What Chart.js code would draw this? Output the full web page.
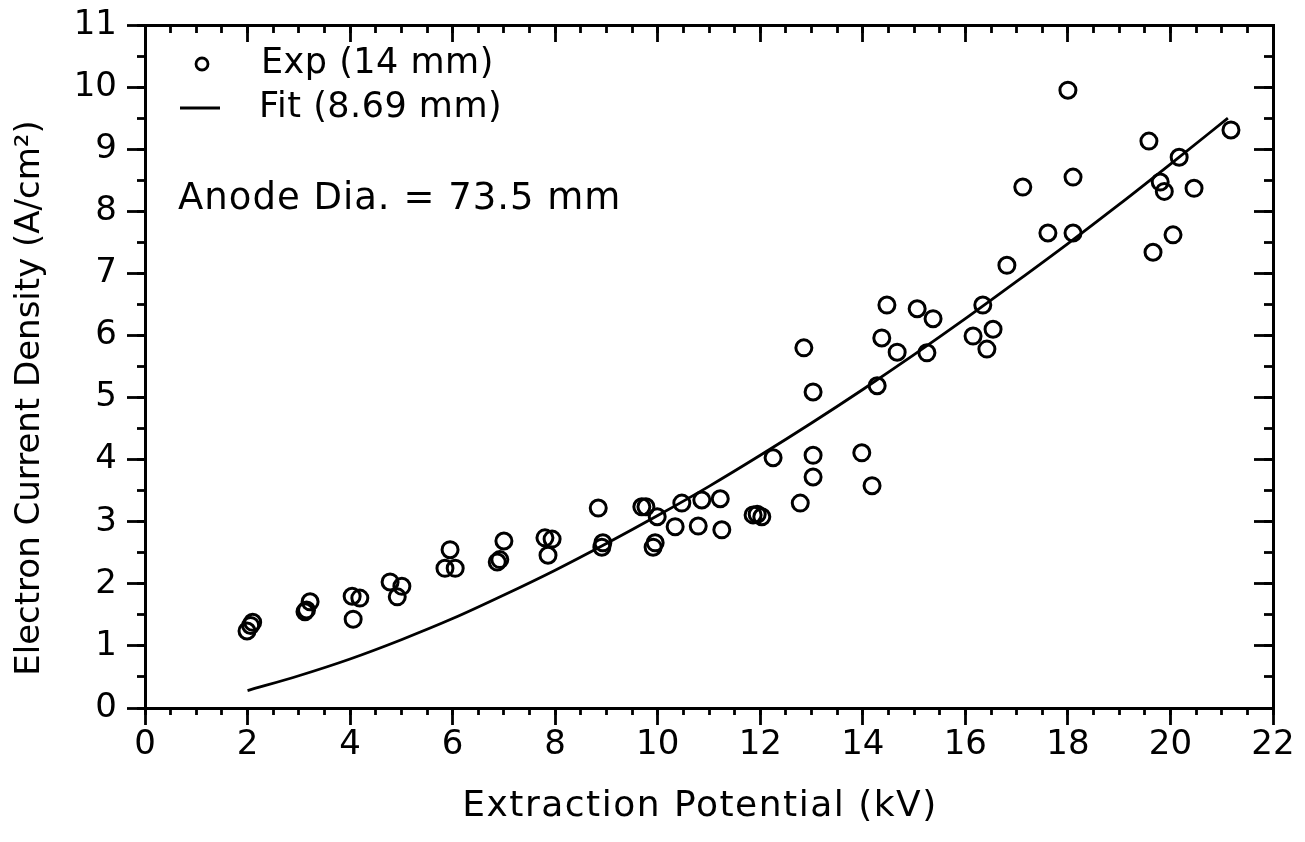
<!DOCTYPE html>
<html>
<head>
<meta charset="utf-8">
<script src="https://cdn.jsdelivr.net/npm/chart.js@4/dist/chart.umd.min.js"></script>
<style>
html,body{margin:0;padding:0;background:#fff;}
#wrap{width:1305px;height:842px;position:relative;}
canvas{display:block;}
</style>
</head>
<body>
<div id="wrap"><canvas id="c" width="1305" height="842"></canvas></div>
<script>
// Experimental points (Exp 14 mm)
const expX = [1.99, 2.06, 2.10, 3.12, 3.15, 3.22, 4.04, 4.06, 4.19, 4.78, 4.92, 5.01,
  5.85, 5.95, 6.05, 6.87, 6.92, 7.00, 7.80, 7.86, 7.94, 8.84, 8.91, 8.93,
  9.69, 9.77, 9.91, 9.95, 9.99, 10.34, 10.47, 10.79, 10.86, 11.22, 11.25,
  11.86, 11.94, 12.03, 12.25, 12.78, 12.85, 13.03, 13.03, 13.03, 13.98, 14.18,
  14.28, 14.37, 14.47, 14.67, 15.06, 15.25, 15.37, 16.15, 16.34, 16.42, 16.54,
  16.81, 17.12, 17.61, 18.00, 18.10, 18.10, 19.58, 19.66, 19.80, 19.88, 20.05,
  20.17, 20.46, 21.18];
const expY = [1.24, 1.33, 1.38, 1.55, 1.58, 1.71, 1.80, 1.43, 1.77, 2.03, 1.79, 1.96,
  2.25, 2.55, 2.25, 2.35, 2.39, 2.69, 2.74, 2.46, 2.72, 3.22, 2.59, 2.66,
  3.24, 3.24, 2.59, 2.66, 3.08, 2.92, 3.30, 2.93, 3.35, 3.37, 2.87,
  3.11, 3.12, 3.08, 4.03, 3.30, 5.80, 5.09, 4.07, 3.72, 4.11, 3.58,
  5.19, 5.96, 6.49, 5.73, 6.43, 5.72, 6.27, 5.99, 6.49, 5.78, 6.10,
  7.13, 8.39, 7.65, 9.95, 8.55, 7.65, 9.13, 7.34, 8.47, 8.32, 7.62,
  8.87, 8.37, 9.31];
// Fit curve (8.69 mm)
const fitX = [2.0, 3.0, 4.0, 5.0, 6.0, 7.0, 8.0, 9.0, 10.0, 11.0, 12.0, 13.0, 14.0, 15.0, 16.0, 17.0, 18.0, 19.0, 20.0, 21.12];
const fitY = [0.28, 0.52, 0.79, 1.10, 1.44, 1.82, 2.22, 2.65, 3.10, 3.57, 4.07, 4.59, 5.13, 5.69, 6.27, 6.87, 7.48, 8.11, 8.76, 9.50];
// Tick labels
const xTickLabels = [0, 2, 4, 6, 8, 10, 12, 14, 16, 18, 20, 22];
const yTickLabels = [0, 1, 2, 3, 4, 5, 6, 7, 8, 9, 10, 11];
const xTitle = 'Extraction Potential (kV)';
const yTitle = 'Electron Current Density (A/cm\u00B2)';
const legendExp = 'Exp (14 mm)';
const legendFit = 'Fit (8.69 mm)';
const noteText = 'Anode Dia. = 73.5 mm';

const FONT = '"DejaVu Sans", "Liberation Sans", sans-serif';

function stepTicks(min, max, step) {
  const t = [];
  for (let v = min; v <= max + 1e-9; v += step) t.push({value: Math.round(v * 1000) / 1000});
  return t;
}
function zeroPad(s) { s.paddingTop = 0; s.paddingBottom = 0; s.paddingLeft = 0; s.paddingRight = 0; }
function tickScale(axis, pos, step, len, min, max) {
  return {
    type: 'linear', axis: axis, position: pos, min: min, max: max,
    afterBuildTicks: s => { s.ticks = stepTicks(min, max, step); },
    afterFit: zeroPad,
    ticks: {display: false},
    grid: {display: true, drawOnChartArea: false, drawTicks: true, tickLength: len, tickWidth: 2.8, tickColor: '#000'},
    border: {display: false}
  };
}

const textPlugin = {
  id: 'texts',
  afterDraw(chart) {
    const ctx = chart.ctx;
    ctx.save();
    ctx.fillStyle = '#000';
    ctx.strokeStyle = '#000';
    ctx.textBaseline = 'middle';
    // legend
    ctx.lineWidth = 2.8;
    ctx.beginPath(); ctx.arc(202, 64, 6, 0, Math.PI * 2); ctx.stroke();
    ctx.beginPath(); ctx.moveTo(180, 108); ctx.lineTo(220, 108); ctx.stroke();
    ctx.font = '35px ' + FONT;
    ctx.textAlign = 'left';
    try { ctx.letterSpacing = '0.5px'; } catch (e) {}
    ctx.fillText(legendExp, 261, 64);
    ctx.fillText(legendFit, 259, 108);
    try { ctx.letterSpacing = '1px'; } catch (e) {}
    ctx.font = '37px ' + FONT;
    ctx.fillText(noteText, 178, 199);
    // axis titles
    try { ctx.letterSpacing = '1.5px'; } catch (e) {}
    ctx.font = '36px ' + FONT;
    ctx.textAlign = 'center';
    ctx.fillText(xTitle, 700, 807);
    try { ctx.letterSpacing = '0px'; } catch (e) {}
    ctx.save();
    ctx.translate(30, 398);
    ctx.rotate(-Math.PI / 2);
    ctx.font = '34px ' + FONT;
    ctx.fillText(yTitle, 0, 0);
    ctx.restore();
    ctx.restore();
  }
};

new Chart(document.getElementById('c'), {
  type: 'scatter',
  data: {
    datasets: [
      {
        label: legendExp,
        data: expX.map((x, i) => ({x: x, y: expY[i]})),
        pointStyle: 'circle', pointRadius: 8, pointHoverRadius: 8,
        pointBorderWidth: 3, borderColor: '#000', backgroundColor: 'rgba(0,0,0,0)',
        showLine: false, xAxisID: 'x', yAxisID: 'y', order: 1
      },
      {
        label: legendFit,
        data: fitX.map((x, i) => ({x: x, y: fitY[i]})),
        showLine: true, pointRadius: 0, borderColor: '#000', borderWidth: 2.8,
        tension: 0.4, cubicInterpolationMode: 'monotone', fill: false,
        xAxisID: 'x', yAxisID: 'y', order: 2
      }
    ]
  },
  options: {
    responsive: false, animation: false, devicePixelRatio: 1,
    layout: {padding: {left: 0, top: 25, right: 32, bottom: 0}},
    plugins: {legend: {display: false}, tooltip: {enabled: false}},
    scales: {
      x: {
        type: 'linear', position: 'bottom', min: 0, max: 22,
        afterBuildTicks: s => { s.ticks = xTickLabels.map(v => ({value: v})); },
        afterFit: s => { s.height = 134; zeroPad(s); },
        grid: {display: false, drawOnChartArea: false, drawTicks: false},
        border: {display: true, width: 3, color: '#000'},
        ticks: {padding: 17, color: '#000', autoSkip: false, maxRotation: 0, font: {family: FONT, size: 34}}
      },
      y: {
        type: 'linear', position: 'left', min: 0, max: 11,
        afterBuildTicks: s => { s.ticks = yTickLabels.map(v => ({value: v})); },
        afterFit: s => { s.width = 145; zeroPad(s); },
        grid: {display: false, drawOnChartArea: false, drawTicks: false},
        border: {display: true, width: 3, color: '#000'},
        ticks: {padding: 28, color: '#000', autoSkip: false, font: {family: FONT, size: 34}}
      },
      xTop: {
        type: 'linear', axis: 'x', position: {y: 11}, min: 0, max: 22,
        afterBuildTicks: s => { s.ticks = stepTicks(0, 22, 2); },
        afterFit: zeroPad,
        ticks: {display: false},
        grid: {display: true, drawOnChartArea: false, drawTicks: true, tickLength: 15, tickWidth: 2.8, tickColor: '#000'},
        border: {display: true, width: 3, color: '#000'}
      },
      yRight: {
        type: 'linear', axis: 'y', position: {x: 22}, min: 0, max: 11,
        afterBuildTicks: s => { s.ticks = stepTicks(0, 11, 1); },
        afterFit: zeroPad,
        ticks: {display: false},
        grid: {display: true, drawOnChartArea: false, drawTicks: true, tickLength: 18, tickWidth: 2.8, tickColor: '#000'},
        border: {display: true, width: 3, color: '#000'}
      },
      xMajB: tickScale('x', {y: 0}, 2, 17, 0, 22),
      xMinB: tickScale('x', {y: 0}, 0.5, 7, 0, 22),
      xMinT: tickScale('x', {y: 11}, 0.5, 8, 0, 22),
      yMajL: tickScale('y', {x: 0}, 1, 18, 0, 11),
      yMinL: tickScale('y', {x: 0}, 0.5, 8, 0, 11),
      yMinR: tickScale('y', {x: 22}, 0.5, 9, 0, 11)
    }
  },
  plugins: [textPlugin]
});
</script>
</body>
</html>
